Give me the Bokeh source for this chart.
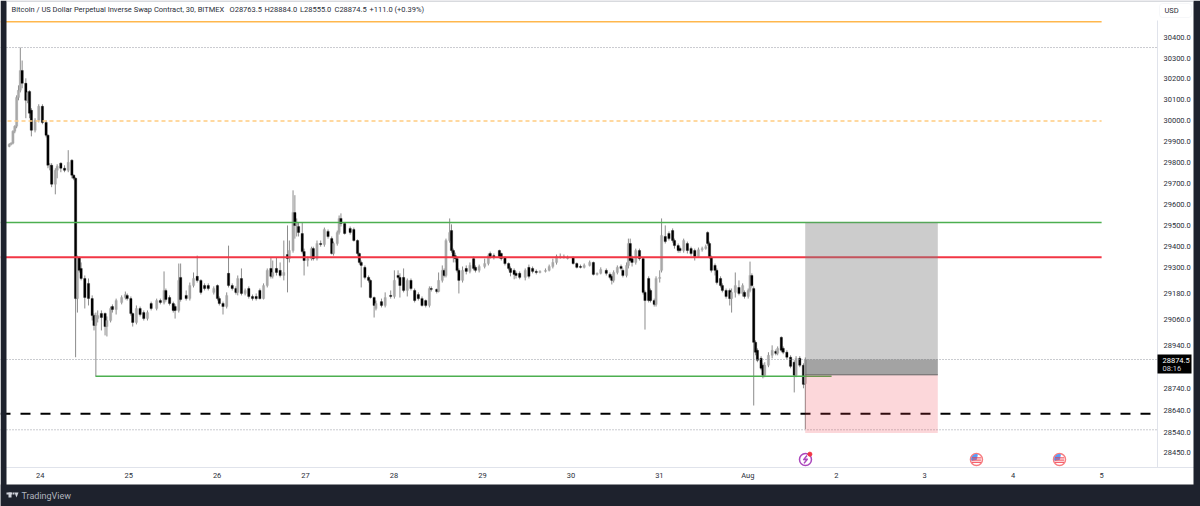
from bokeh.embed import file_html
from bokeh.models import BoxAnnotation, FixedTicker, Label, NumeralTickFormatter, PolyAnnotation, Range1d
from bokeh.plotting import figure
from bokeh.resources import INLINE

# 30 minute slots counted from the left edge of the chart
slots = [0,1,2,3,4,5,6,7,9,10,11,12,14,16,18,20,21,22,23,25,26,28,30,32,34,35,36,37,38,39,41,43,45,46,47,48,50,52,53,55,56,58,61,63,64,66,67,69,71,73,75,77,80,82,84,85,87,89,90,92,93,96,98,100,102,104,106,108,111,113,114,116,118,119,121,123,124,126,128,130,132,134,136,138,140,142,143,145,147,149,151,152,154,155,156,157,159,160,162,164,165,167,169,171,173,175,176,178,179,180,182,185,187,189,190,191,193,195,196,198,199,202,204,207,209,211,212,214,216,218,220,222,224,226,228,229,232,233,235,236,237,239,240,241,242,243,244,246,248,250,252,253,255,258,260,261,263,266,267,269,271,272,274,275,277,280,282,284,286,288,291,293,295,297,299,301,303,306,308,310,312,315,317,319,321,324,326,327,328,330,332,333,335,336,337,338,340,342,344,345,347,348,350,351,353,354,356,358,360,361,363,364,366,368,370,372,374,376,378,379,380,381,383,384,386,387,389,391,392,394,396,398,399,401,402,403,404,405,406,408,409,410,412,414,416,417,419,420,422,424,426,427,429,431,432]

opens = [29875,29885,29890,29947,29971,30110,30144,30240,30178,30096,30139,30048,29952,30000,30067,29990,29928,29780,29785,29695,29761,29795,29771,29761,29809,29738,29723,29157,29349,29298,29251,29228,29157,29078,29032,29064,29088,29088,29027,29055,29120,29106,29139,29162,29172,29157,29088,29046,29111,29092,29064,29134,29111,29148,29139,29195,29162,29134,29120,29102,29256,29172,29157,29218,29261,29242,29218,29218,29186,29218,29157,29134,29120,29275,29218,29204,29186,29251,29181,29204,29167,29167,29195,29157,29218,29298,29261,29298,29289,29265,29363,29344,29382,29561,29500,29495,29462,29377,29335,29344,29391,29344,29415,29410,29472,29438,29368,29415,29467,29533,29509,29486,29481,29429,29368,29326,29303,29256,29242,29162,29111,29143,29125,29172,29167,29265,29256,29256,29195,29242,29195,29176,29157,29148,29125,29204,29200,29190,29242,29289,29265,29429,29476,29382,29358,29344,29289,29242,29298,29284,29344,29303,29289,29307,29321,29368,29358,29382,29368,29349,29321,29298,29289,29275,29275,29256,29303,29298,29284,29279,29284,29289,29307,29326,29349,29349,29344,29349,29321,29307,29303,29312,29326,29270,29275,29289,29270,29261,29242,29279,29307,29289,29265,29312,29415,29344,29326,29382,29344,29186,29251,29195,29148,29130,29251,29289,29448,29462,29476,29429,29405,29391,29382,29415,29391,29382,29354,29386,29391,29467,29415,29349,29312,29289,29251,29218,29195,29195,29157,29186,29209,29181,29186,29167,29195,29265,29204,28954,28917,28880,28848,28802,28848,28894,28912,28903,28977,28926,28908,28885,28862,28802,28880,28848,28763.5]

closes = [29885,29890,29947,29971,30110,30144,30240,30178,30096,30134,30034,29952,30000,30067,29990,29928,29785,29785,29695,29761,29780,29771,29761,29799,29738,29723,29157,29349,29289,29251,29162,29157,29078,29032,29078,29078,29069,29027,29055,29111,29106,29148,29162,29176,29157,29088,29046,29111,29083,29064,29092,29111,29148,29139,29195,29153,29134,29102,29102,29242,29153,29157,29218,29251,29242,29186,29204,29204,29204,29157,29134,29120,29172,29218,29204,29186,29251,29181,29195,29167,29157,29157,29157,29218,29289,29261,29279,29279,29265,29279,29344,29382,29561,29500,29514,29467,29377,29335,29344,29391,29344,29415,29410,29481,29448,29368,29415,29467,29533,29509,29462,29467,29429,29368,29326,29312,29256,29242,29162,29125,29134,29125,29162,29167,29242,29256,29218,29195,29242,29204,29148,29157,29125,29125,29204,29200,29190,29242,29289,29265,29429,29467,29382,29349,29344,29289,29242,29289,29284,29312,29298,29289,29307,29321,29358,29354,29349,29354,29344,29321,29298,29279,29270,29265,29256,29289,29261,29284,29279,29284,29289,29307,29326,29354,29354,29354,29349,29321,29303,29303,29312,29326,29270,29275,29293,29275,29256,29242,29279,29303,29298,29265,29312,29415,29335,29326,29382,29344,29186,29148,29148,29148,29130,29251,29256,29453,29424,29438,29429,29405,29382,29382,29429,29382,29368,29354,29386,29391,29400,29415,29349,29289,29289,29232,29218,29195,29167,29157,29186,29218,29181,29218,29167,29195,29265,29218,28954,28908,28871,28834,28802,28848,28894,28917,28903,28926,28917,28908,28885,28843,28802,28880,28848,28760,28874.5]

highs = [29890,29895,29952,29976,30120,30168,30351,30288,30202,30139,30144,30058,30010,30077,30077,30000,29933,29795,29795,29771,29790,29799,29785,29857,29814,29742,29728,29358,29354,29326,29265,29251,29172,29088,29092,29102,29102,29092,29074,29120,29130,29157,29172,29190,29181,29167,29092,29125,29120,29102,29102,29143,29157,29157,29284,29204,29172,29143,29130,29321,29321,29195,29232,29279,29358,29247,29228,29228,29214,29223,29167,29143,29186,29405,29228,29214,29265,29298,29204,29214,29176,29181,29204,29228,29298,29349,29335,29349,29326,29429,29500,29429,29666,29643,29533,29514,29514,29391,29354,29400,29400,29429,29429,29490,29481,29448,29424,29476,29547,29557,29514,29495,29490,29434,29372,29335,29312,29265,29247,29167,29148,29157,29186,29195,29289,29289,29275,29298,29251,29251,29204,29186,29167,29153,29214,29214,29204,29279,29312,29298,29438,29533,29505,29391,29372,29354,29298,29307,29312,29326,29354,29312,29316,29344,29368,29377,29368,29386,29372,29354,29326,29307,29298,29284,29284,29298,29316,29307,29293,29289,29298,29316,29344,29363,29368,29363,29358,29354,29326,29316,29321,29335,29330,29279,29303,29298,29279,29270,29289,29312,29316,29298,29326,29438,29438,29358,29391,29391,29349,29195,29261,29204,29157,29261,29289,29533,29500,29472,29486,29438,29415,29400,29438,29424,29400,29391,29396,29400,29410,29472,29424,29358,29321,29298,29261,29228,29204,29204,29204,29279,29242,29228,29195,29204,29330,29275,29214,28963,28926,28890,28857,28862,28908,28940,28921,28935,28981,28935,28917,28894,28871,28890,28890,28857,28884]

lows = [29871,29880,29885,29938,29962,30096,30134,30154,30010,30082,30010,29923,29942,29990,29981,29918,29771,29761,29681,29647,29723,29752,29752,29752,29723,29714,28885,29092,29279,29242,29111,29125,29055,29009,28797,29046,29009,28986,28981,29046,29092,29083,29130,29153,29148,29078,29027,29037,29074,29055,29055,29102,29102,29130,29130,29143,29125,29092,29064,29092,29143,29148,29148,29209,29232,29176,29195,29195,29176,29148,29125,29083,29111,29209,29195,29176,29172,29172,29172,29157,29148,29148,29153,29153,29209,29251,29251,29265,29256,29242,29186,29326,29372,29438,29448,29448,29368,29265,29307,29335,29335,29335,29400,29400,29438,29363,29358,29405,29457,29495,29457,29457,29424,29358,29316,29209,29247,29232,29157,29069,29102,29116,29116,29157,29157,29247,29162,29186,29167,29195,29139,29148,29120,29116,29116,29190,29181,29186,29232,29256,29256,29419,29372,29326,29326,29279,29181,29232,29270,29275,29289,29279,29279,29298,29312,29344,29340,29344,29335,29312,29289,29261,29247,29251,29247,29242,29251,29275,29270,29275,29279,29284,29298,29316,29344,29344,29340,29316,29298,29298,29298,29307,29265,29265,29270,29265,29247,29223,29232,29270,29289,29256,29256,29298,29326,29307,29316,29335,29176,29013,29139,29139,29120,29120,29232,29279,29415,29429,29419,29391,29372,29372,29372,29368,29358,29335,29349,29377,29386,29405,29344,29279,29265,29223,29209,29186,29157,29125,29092,29162,29172,29167,29157,29157,29186,29209,28663,28894,28862,28825,28788,28793,28839,28880,28894,28894,28908,28899,28876,28834,28723,28793,28839,28742,28555]

# axis ticks
price_ticks = [30400,30300,30200,30100,30000,29900,29800,29700,29600,29500,29400,29300,29180,29060,28940,28740,28640,28540,28450]
day_ticks = [24,25,26,27,28,29,30,31,32,33,34,35,36]
day_labels = ["24","25","26","27","28","29","30","31","Aug","2","3","4","5"]

# drawn levels
slot_start = 23.65
chart_start = 23.551
chart_end = 36.632
drawing_end = 36.0
orange_top = 30476
orange_round = 29997
green_res = 29514
red_level = 29350
green_sup = 28797
green_sup_days = [24.625, 32.947]
black_dash = 28625
high_dot = 30351
last_dot = 28874.5
low_dot = 28552
time_axis_price = 28381

# long position tool
pos_days = [32.649, 34.148]
pos_target = 29514
pos_entry = 28804
pos_stop = 28537

# event icons
flag_days = [34.585, 35.524]
flash_day = 32.652
icon_price = 28417
flash_xs = [32.669, 32.629, 32.675, 32.635]
flash_ys = [28435, 28415, 28419, 28399]
flag_stripes = [28424, 28414, 28404]

FONT = "Roboto"
TEXT = "#2a2e39"
DARK = "#1e222d"

# the frame fills the canvas, the axes sit inside it at fixed locations
p = figure(width=1200, height=506, output_backend="svg", toolbar_location=None,
           y_axis_type="log", y_axis_location="right",
           x_range=Range1d(chart_start, 37.118), y_range=Range1d(28204, 30580),
           min_border_left=0, min_border_top=0, min_border_right=0, min_border_bottom=0)
p.grid.visible = False
p.outline_line_color = None
p.background_fill_color = "white"
p.border_fill_color = "white"

p.yaxis.ticker = FixedTicker(ticks=price_ticks)
p.yaxis.formatter = NumeralTickFormatter(format="0.0")
p.yaxis.fixed_location = chart_end
p.yaxis.bounds = (time_axis_price, 30480)
p.xaxis.ticker = FixedTicker(ticks=day_ticks)
p.xaxis.major_label_overrides = dict(zip(day_ticks, day_labels))
p.xaxis.fixed_location = time_axis_price
for ax in [p.xaxis, p.yaxis]:
    ax.major_tick_line_color = None
    ax.minor_tick_line_color = None
    ax.axis_line_color = "#e0e3eb"
    ax.major_label_text_font = FONT
    ax.major_label_text_font_size = "7.5px"
    ax.major_label_text_color = TEXT
p.yaxis.major_label_standoff = 0
p.xaxis.major_label_standoff = -2

# candles
days = [slot_start + s / 48 for s in slots]
tops = [max(a, b) for a, b in zip(opens, closes)]
bottoms = [min(a, b) for a, b in zip(opens, closes)]
colors = ["#a8a8a8" if c >= o else "#000000" for o, c in zip(opens, closes)]
p.segment(days, highs, days, lows, color="#8c8c8c", line_width=1)
p.vbar(days, width=0.026, top=tops, bottom=bottoms, fill_color=colors, line_color=colors, line_width=0.3)

# levels
def level(price, end, color, width=1, dash="solid", start=chart_start):
    p.line([start, end], [price, price], color=color, line_width=width, line_dash=dash)

level(high_dot, chart_end, "#9598a1", 1, [1, 2])
level(last_dot, chart_end, "#9598a1", 1, [1, 2])
level(low_dot, chart_end, "#9598a1", 1, [1, 2])
level(orange_top, drawing_end, "#ffb74d", 1.5)
level(orange_round, drawing_end, "#ffcc80", 1.5, [4, 3])
level(green_res, drawing_end, "#4caf50", 1.5)
level(red_level, drawing_end, "#f23645", 2)
level(black_dash, chart_end, "#000000", 2, [10, 10])
level(green_sup, green_sup_days[1], "#4caf50", 1.5, start=green_sup_days[0])

# long position: profit zone, the part above entry up to last price, stop zone
p.quad(left=pos_days[0], right=pos_days[1], top=pos_target, bottom=pos_entry,
       fill_color="#808080", fill_alpha=0.4, line_color=None)
p.quad(left=pos_days[0], right=pos_days[1], top=last_dot, bottom=pos_entry,
       fill_color="#666666", fill_alpha=0.4, line_color=None)
p.quad(left=pos_days[0], right=pos_days[1], top=pos_entry, bottom=pos_stop,
       fill_color="#f23645", fill_alpha=0.2, line_color=None)
p.line(pos_days, [pos_entry, pos_entry], color="#666666", line_width=1)

# event icons
p.scatter([flash_day], [icon_price], size=12, fill_color="white", line_color="#ab47bc", line_width=1.5)
p.line(flash_xs, flash_ys, color="#ab47bc", line_width=1.5)
p.scatter([flash_day + 0.05], [icon_price + 24], size=4, color="#f23645")
for d in flag_days:
    p.scatter([d], [icon_price], size=12, fill_color="white", line_color="#f77c80", line_width=1.5)
    p.wedge([d], [icon_price], radius=5, radius_units="screen", start_angle=1.4, end_angle=3.3,
            color="#5b9cf6")
    p.scatter([d] * len(flag_stripes), flag_stripes, marker="dash", size=9, line_color="#f23645", line_width=1)

# dark surround, logo and other furniture (canvas coordinates)
def box(l, t, r, b, color, line=None, radius=0):
    p.add_layout(BoxAnnotation(left=l, right=r, top=t, bottom=b, left_units="canvas", right_units="canvas",
                               top_units="canvas", bottom_units="canvas", fill_color=color, fill_alpha=1,
                               line_color=line, border_radius=radius, level="overlay"))

def text(x, y, s, color=TEXT, size="7.5px", align="left"):
    p.add_layout(Label(x=x, y=y, x_units="canvas", y_units="canvas", text=s, text_color=color, text_font=FONT,
                       text_font_size=size, text_baseline="middle", text_align=align, level="overlay"))

box(0, 0, 6, 506, DARK)
box(1193, 0, 1200, 506, DARK)
box(0, 484, 1200, 506, DARK)
box(6, 0, 1193, 1, "#b2b5be")
box(6, 492, 12, 494, "#d1d4dc")
box(8, 492, 11, 497, "#d1d4dc")
box(12.5, 492, 14, 494, "#d1d4dc")
p.add_layout(PolyAnnotation(xs=[14, 18, 16], ys=[492, 492, 497], xs_units="canvas", ys_units="canvas",
                            fill_color="#d1d4dc", fill_alpha=1, line_color=None, level="overlay"))
text(21, 495, "TradingView", "#b2b5be", "9px")

text(11, 9, "Bitcoin / US Dollar Perpetual Inverse Swap Contract, 30, BITMEX")
text(229, 9, "O28763.5")
text(264, 9, "H28884.0")
text(299.5, 9, "L28555.0")
text(334, 9, "C28874.5")
text(369, 9, "+111.0 (+0.39%)")

box(1159, 3, 1191, 17, "white", "#e0e3eb", 3)
text(1171, 10, "USD", align="center")

box(1157, 354, 1191, 373, "#000000")
text(1162, 360, "28874.5", "white")
text(1162, 368, "08:16", "#d1d4dc")

open("out.html", "w").write(file_html(p, INLINE))
